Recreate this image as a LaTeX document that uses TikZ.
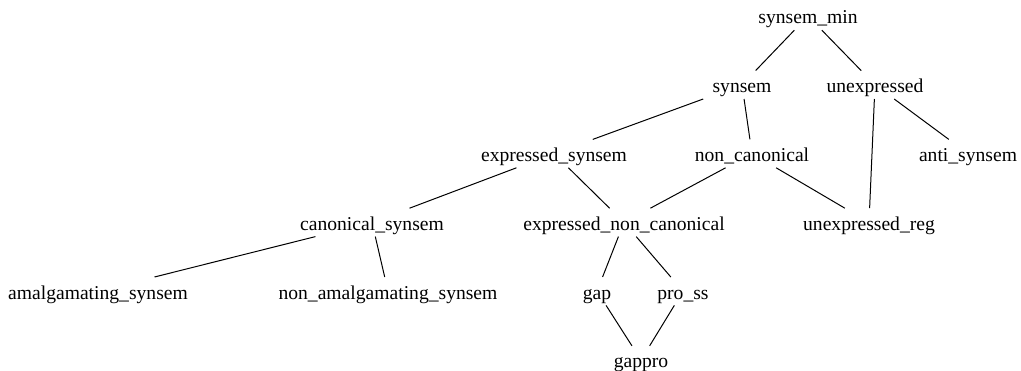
\documentclass[tikz,border=0pt]{standalone}
\usepackage{fontspec}
\setmainfont{Liberation Serif}
\begin{document}
\begin{tikzpicture}[x=1pt,y=-1pt,
  typ/.style={inner xsep=20pt, inner ysep=0pt, text height=22pt, text depth=6pt,
              anchor=base, font=\fontsize{19.6}{20}\selectfont},
  link/.style={line width=1pt}]
\useasboundingbox (0,0) rectangle (1021,371);
% type hierarchy nodes, placed by centre x and baseline y
\node[typ] (smin)  at (808,24)    {synsem\_min};
\node[typ] (syn)   at (742,92.8)  {synsem};
\node[typ] (unexp) at (875,92.8)  {unexpressed};
\node[typ] (exsyn) at (554,161.6) {expressed\_synsem};
\node[typ] (noncan) at (752,161.6) {non\_canonical};
\node[typ] (anti)  at (968,161.6) {anti\_synsem};
\node[typ] (can)   at (372,230.4) {canonical\_synsem};
\node[typ] (exnc)  at (624,230.4) {expressed\_non\_canonical};
\node[typ] (ureg)  at (869,230.4) {unexpressed\_reg};
\node[typ] (amal)  at (98,299.2)  {amalgamating\_synsem};
\node[typ] (namal) at (388,299.2) {non\_amalgamating\_synsem};
\node[typ] (gap)   at (597,299.2) {gap};
\node[typ] (pross) at (683,299.2) {pro\_ss};
\node[typ] (gappro) at (641,368)  {gappro};
% subtype links
\draw[link] (smin) -- (syn);
\draw[link] (smin) -- (unexp);
\draw[link] (syn) -- (exsyn);
\draw[link] (syn) -- (noncan);
\draw[link] (unexp) -- (ureg);
\draw[link] (unexp) -- (anti);
\draw[link] (exsyn) -- (can);
\draw[link] (exsyn) -- (exnc);
\draw[link] (noncan) -- (exnc);
\draw[link] (noncan) -- (ureg);
\draw[link] (can) -- (amal);
\draw[link] (can) -- (namal);
\draw[link] (exnc) -- (gap);
\draw[link] (exnc) -- (pross);
\draw[link] (gap) -- (gappro);
\draw[link] (pross) -- (gappro);
\end{tikzpicture}
\end{document}
